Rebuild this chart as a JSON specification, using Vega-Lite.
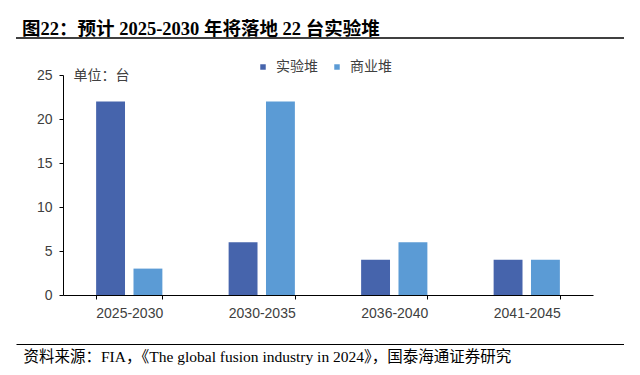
{
  "$schema": "https://vega.github.io/schema/vega-lite/v6.json",
  "padding": {"left": 16, "top": 19, "right": 0, "bottom": 0},
  "background": "white",
  "width": 608,
  "height": 306,
  "view": {"stroke": "#404040", "strokeWidth": 2, "strokeDash": [608, 3000]},
  "config": {"font": "Liberation Sans, Noto Sans CJK SC"},
  "title": {
    "text": "图22：预计 2025-2030 年将落地 22 台实验堆",
    "anchor": "start",
    "frame": "group",
    "font": "Liberation Serif, Noto Sans CJK SC",
    "fontSize": 18.5,
    "fontWeight": "bold",
    "color": "#000000",
    "baseline": "alphabetic",
    "offset": -15,
    "dx": 6
  },
  "data": {
    "values": [
      {"period": "2025-2030", "type": "实验堆", "count": 22},
      {"period": "2025-2030", "type": "商业堆", "count": 3},
      {"period": "2030-2035", "type": "实验堆", "count": 6},
      {"period": "2030-2035", "type": "商业堆", "count": 22},
      {"period": "2036-2040", "type": "实验堆", "count": 4},
      {"period": "2036-2040", "type": "商业堆", "count": 6},
      {"period": "2041-2045", "type": "实验堆", "count": 4},
      {"period": "2041-2045", "type": "商业堆", "count": 4}
    ]
  },
  "layer": [
    {
      "mark": {"type": "bar"},
      "encoding": {
        "x": {
          "field": "period",
          "type": "nominal",
          "sort": null,
          "scale": {"range": [47, 577], "paddingInner": 0.5, "paddingOuter": 0.25},
          "axis": {
            "orient": "bottom",
            "title": "资料来源：FIA，《The global fusion industry in 2024》，国泰海通证券研究",
            "titleFont": "Liberation Serif, Noto Sans CJK SC",
            "titleFontSize": 15.5,
            "titleFontWeight": "normal",
            "titleColor": "#000000",
            "titleX": 7,
            "titleY": 54,
            "titleAlign": "left",
            "titleAnchor": "start",
            "titleBaseline": "top",
            "offset": -49,
            "labelAngle": 0,
            "labelFontSize": 14,
            "labelColor": "#404040",
            "labelPadding": 7,
            "domainColor": "#000000",
            "tickColor": "#000000",
            "tickSize": 4,
            "tickBand": "extent"
          }
        },
        "xOffset": {
          "field": "type",
          "sort": ["实验堆", "商业堆"],
          "scale": {"paddingInner": 0.227, "paddingOuter": 0}
        },
        "y": {
          "field": "count",
          "type": "quantitative",
          "scale": {"domain": [0, 25], "nice": false, "range": [257, 37]},
          "axis": {
            "values": [0, 5, 10, 15, 20, 25],
            "grid": false,
            "offset": -47,
            "title": "单位：台",
            "titleAngle": 0,
            "titleX": 10,
            "titleY": 37,
            "titleAlign": "left",
            "titleBaseline": "middle",
            "titleFontSize": 14,
            "titleFontWeight": "normal",
            "titleColor": "#404040",
            "labelFontSize": 14,
            "labelColor": "#404040",
            "labelPadding": 7,
            "tickSize": 4,
            "domainColor": "#000000",
            "tickColor": "#000000"
          }
        },
        "color": {
          "field": "type",
          "type": "nominal",
          "scale": {"domain": ["实验堆", "商业堆"], "range": ["#4664AC", "#5B9BD5"]},
          "legend": {
            "title": null,
            "orient": "none",
            "legendX": 240,
            "legendY": 22,
            "direction": "horizontal",
            "symbolType": "square",
            "symbolSize": 30,
            "symbolStrokeWidth": 0,
            "labelFontSize": 14,
            "labelColor": "#404040",
            "labelOffset": 6,
            "columnPadding": 12,
            "padding": 0
          }
        }
      }
    },
    {
      "mark": {"type": "point", "opacity": 0},
      "encoding": {
        "x": {
          "field": "period",
          "type": "nominal",
          "sort": null,
          "scale": {"range": [0, 608]},
          "axis": {
            "orient": "bottom",
            "title": null,
            "labels": false,
            "ticks": false,
            "domainColor": "#000000",
            "domainWidth": 1
          }
        }
      }
    }
  ],
  "resolve": {"scale": {"x": "independent"}, "axis": {"x": "independent"}}
}
